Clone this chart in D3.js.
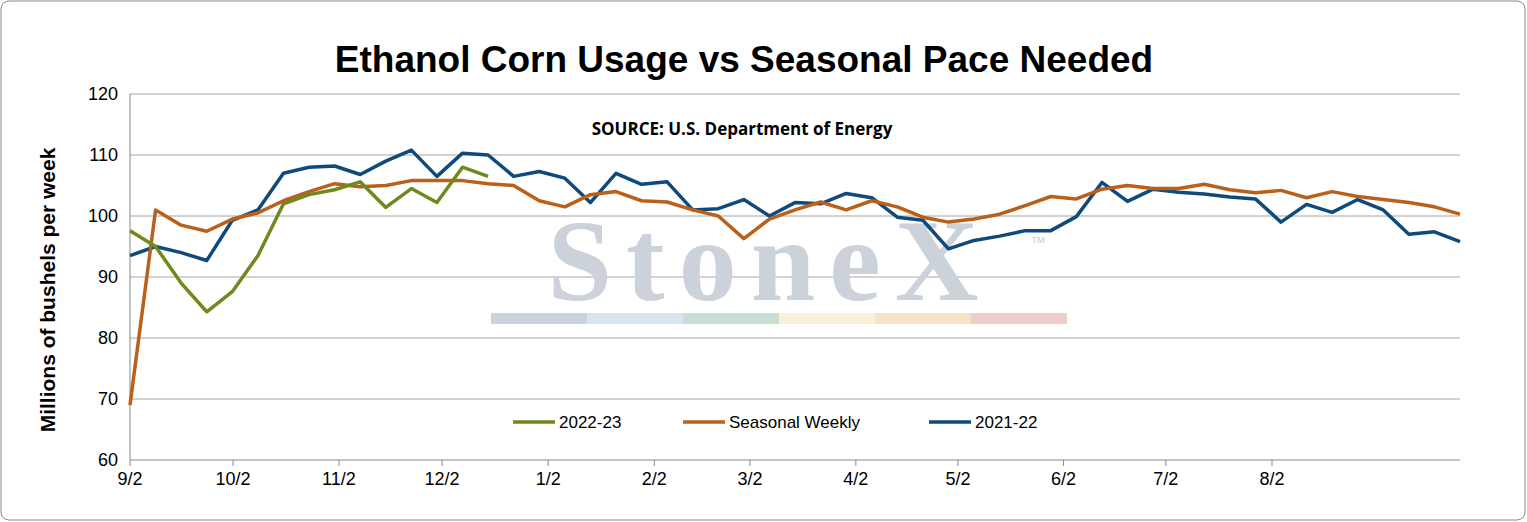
<!DOCTYPE html>
<html><head><meta charset="utf-8">
<script src="https://cdn.jsdelivr.net/npm/d3@7"></script>
<style>body{margin:0;background:#fff;font-family:"Liberation Sans",Arial,sans-serif}</style>
</head><body>
<script>
// Weekly values, week 0 = 9/2
var green = [97.6,95,89,84.3,87.6,93.5,102,103.5,104.3,105.6,101.4,104.5,102.2,108,106.5];
var seasonal = [69,101,98.5,97.5,99.5,100.5,102.5,104,105.3,104.8,105,105.8,105.8,105.8,105.3,105,102.5,101.5,103.5,104,102.5,102.3,101,100,96.3,99.5,101,102.3,101,102.5,101.5,99.8,99,99.5,100.3,101.7,103.2,102.8,104.4,105,104.5,104.5,105.2,104.3,103.8,104.2,103,104,103.2,102.7,102.2,101.5,100.3];
var blue = [93.5,95,94,92.7,99.3,101,107,108,108.2,106.8,109,110.8,106.5,110.3,110,106.5,107.3,106.2,102.2,107,105.2,105.6,101,101.2,102.7,100,102.2,102,103.7,103,99.8,99.3,94.6,96,96.7,97.6,97.6,99.9,105.5,102.4,104.4,103.9,103.6,103.1,102.8,99,101.9,100.6,102.7,101,97,97.4,95.8];
var monthLabels = ["9/2","10/2","11/2","12/2","1/2","2/2","3/2","4/2","5/2","6/2","7/2","8/2"];
// position of each month label, in weeks from 9/2
var monthWeeks = [0,4.03,8.17,12.2,16.35,20.5,24.24,28.38,32.37,36.5,40.5,44.65];
var yTicks = [60,70,80,90,100,110,120];

var W = 1527, H = 522;
var svg = d3.select('body').append('svg').attr('width', W).attr('height', H);
svg.append('rect').attr('x',1).attr('y',1).attr('width',W-3).attr('height',H-3)
  .attr('rx',8).attr('fill','#fff').attr('stroke','#888');

var x = d3.scaleLinear().domain([0,52]).range([130, 1460]);
var y = d3.scaleLinear().domain([60,120]).range([460,94]);

// gridlines
svg.append('g').selectAll('line').data(yTicks.slice(1)).enter().append('line')
  .attr('x1',130).attr('x2',1460).attr('y1',y).attr('y2',y)
  .attr('stroke','#a6a6a6').attr('stroke-width',1);

// watermark
svg.append('text').attr('x',770).attr('y',300).attr('text-anchor','middle')
  .attr('font-family','Liberation Serif,serif').attr('font-weight','bold').attr('font-size',116)
  .attr('letter-spacing',14).attr('fill','#ccd2da').text('StoneX');
svg.append('text').attr('x',1030).attr('y',248).attr('font-size',16).attr('fill','#ccd2da').text('™');
var wmColors = ['#cdd3de','#d6e5f0','#c9ddd2','#f6f1d8','#f7e2c8','#f0cdcd'];
var wmX = d3.scaleLinear().domain([0,6]).range([491,1067]);
svg.append('g').selectAll('rect').data(wmColors).enter().append('rect')
  .attr('x',function(d,i){return wmX(i);}).attr('y',313)
  .attr('width',wmX(1)-wmX(0)).attr('height',11).attr('fill',function(d){return d;});

// axes
svg.append('line').attr('x1',130).attr('x2',130).attr('y1',94).attr('y2',460).attr('stroke','#888');
svg.append('line').attr('x1',130).attr('x2',1460).attr('y1',460).attr('y2',460).attr('stroke','#888');
svg.append('g').selectAll('text').data(yTicks).enter().append('text')
  .attr('x',118).attr('y',function(d){return y(d)+6;}).attr('text-anchor','end')
  .attr('font-size',18).text(function(d){return d;});
svg.append('g').selectAll('text').data(monthWeeks).enter().append('text')
  .attr('x',x).attr('y',485).attr('text-anchor','middle').attr('font-size',18)
  .text(function(d,i){return monthLabels[i];});
svg.append('g').selectAll('line').data(monthWeeks).enter().append('line')
  .attr('x1',x).attr('x2',x).attr('y1',460).attr('y2',466).attr('stroke','#888');

// titles
svg.append('text').attr('x',744).attr('y',72).attr('text-anchor','middle')
  .attr('font-weight','bold').attr('font-size',37).text('Ethanol Corn Usage vs Seasonal Pace Needed');
svg.append('text').attr('x',742).attr('y',135).attr('text-anchor','middle')
  .attr('font-family','Open Sans,sans-serif').attr('font-weight','bold').attr('font-size',17)
  .text('SOURCE: U.S. Department of Energy');
svg.append('text').attr('transform','translate(55,290) rotate(-90)').attr('text-anchor','middle')
  .attr('font-weight','bold').attr('font-size',21).text('Millions of bushels per week');

// lines
var line = d3.line().x(function(d,i){return x(i);}).y(function(d){return y(d);});
var series = [
  {name:'2021-22', data:blue, color:'#0e4a7c'},
  {name:'Seasonal Weekly', data:seasonal, color:'#b9601b'},
  {name:'2022-23', data:green, color:'#6e8a1f'}
];
series.forEach(function(s){
  svg.append('path').attr('d', line(s.data)).attr('fill','none')
    .attr('stroke', s.color).attr('stroke-width',3.5).attr('stroke-linejoin','round');
});

// legend
var legend = [
  {name:'2022-23', color:'#6e8a1f', x:513},
  {name:'Seasonal Weekly', color:'#b9601b', x:683},
  {name:'2021-22', color:'#0e4a7c', x:929}
];
legend.forEach(function(l){
  svg.append('line').attr('x1',l.x).attr('x2',l.x+42).attr('y1',422).attr('y2',422)
    .attr('stroke',l.color).attr('stroke-width',3.5);
  svg.append('text').attr('x',l.x+46).attr('y',428).attr('font-size',17).text(l.name);
});
</script>
</body></html>
